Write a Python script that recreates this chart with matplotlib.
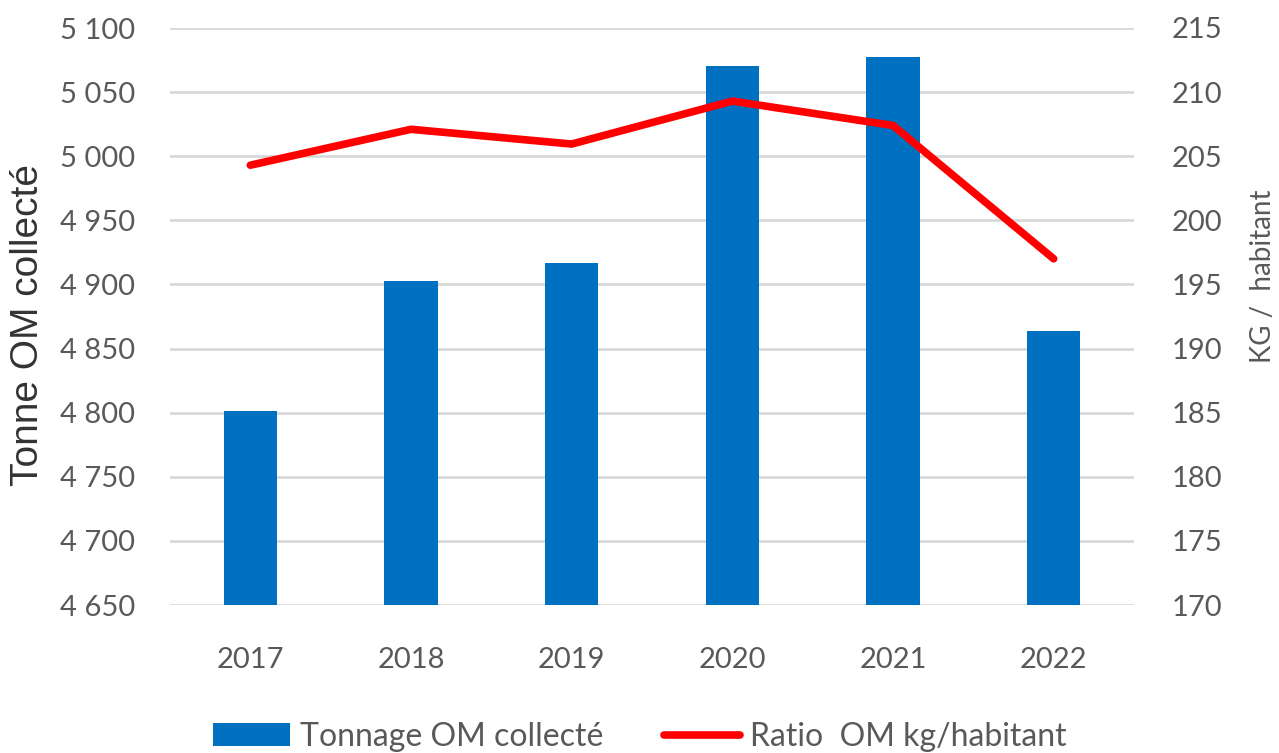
import matplotlib
matplotlib.use("Agg")
import matplotlib.pyplot as plt
from matplotlib.ticker import FuncFormatter
import numpy as np

years = ["2017", "2018", "2019", "2020", "2021", "2022"]
tonnage = [4801, 4903, 4917, 5070, 5077, 4864]
ratio = [204.3, 207.1, 205.95, 209.3, 207.4, 197.0]

plt.rcParams['font.family'] = ['Lato', 'DejaVu Sans']
txt = '#595959'

fig = plt.figure(figsize=(12.79, 7.53), dpi=100)
ax = fig.add_axes([170/1279, 1-605/753, (1134-170)/1279, (605-28)/753])
ax2 = ax.twinx()

x = np.arange(len(years))
ax.bar(x, tonnage, width=0.33, color='#0070C0', label='Tonnage OM collecté', zorder=2)
ax.set_ylim(4650, 5100)
ax.set_yticks(np.arange(4650, 5101, 50))
ax.yaxis.set_major_formatter(FuncFormatter(lambda v, p: f"{int(v):,}".replace(",", " ")))
ax.set_xlim(-0.5, len(years) - 0.5)
ax.set_xticks(x)
ax.set_xticklabels(years)
ax.grid(axis='y', color='#d9d9d9', linewidth=2, zorder=0)
ax.set_axisbelow(True)

ax2.plot(x, ratio, color='#FF0000', linewidth=5.5, solid_capstyle='round', solid_joinstyle='round', label='Ratio  OM kg/habitant', zorder=3)
ax2.set_ylim(170, 215)
ax2.set_yticks(np.arange(170, 216, 5))

for a in (ax, ax2):
    for s in a.spines.values():
        s.set_visible(False)
    a.tick_params(length=0, colors=txt, labelsize=21)
ax.tick_params(axis='y', pad=25)
ax.tick_params(axis='x', pad=30)
ax2.tick_params(axis='y', pad=27)

fig.text(28/1279, 1-325/753, 'Tonne OM collecté', rotation=90, ha='center', va='center',
         fontsize=28, color='#333333', family=['Liberation Sans', 'DejaVu Sans'])
fig.text(1263/1279, 1-276/753, 'KG /  habitant', rotation=90, ha='center', va='center',
         fontsize=20, color=txt)

h1, l1 = ax.get_legend_handles_labels()
h2, l2 = ax2.get_legend_handles_labels()
leg = fig.legend(h1 + h2, l1 + l2, loc='center', bbox_to_anchor=(640/1279, 1-737/753), ncol=2,
                 frameon=False, fontsize=23, handlelength=2.4, handleheight=0.72,
                 handletextpad=0.3, columnspacing=1.9, borderpad=0, borderaxespad=0)
for t in leg.get_texts():
    t.set_color(txt)

fig.savefig('out.png', dpi=100)
